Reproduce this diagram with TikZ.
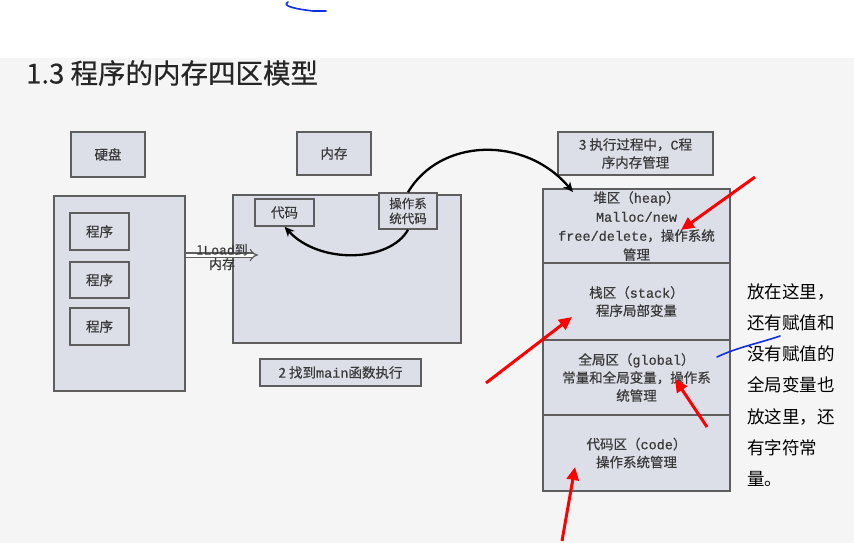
\documentclass[tikz,border=0pt]{standalone}
\usepackage{fontspec}
\setmainfont{Noto Sans CJK SC}
\newfontfamily\diagf[FakeBold=0.6]{Noto Sans CJK SC}
\newfontfamily\titlef[FakeBold=0.5]{Noto Sans CJK SC}
\newfontfamily\monof[FakeBold=0.6]{Liberation Mono}
\usetikzlibrary{arrows.meta}
\definecolor{boxfill}{HTML}{DCDFE8}
\definecolor{boxline}{HTML}{5E5E5E}
\definecolor{txt}{HTML}{3A3A3A}
\definecolor{bgc}{HTML}{F5F5F5}
\definecolor{penblue}{HTML}{1030E0}
\newcommand\lat[1]{{\monof #1}}
\begin{document}
\begin{tikzpicture}[x=1pt,y=-1pt,
  box/.style={draw=boxline, fill=boxfill, line width=1.5pt, inner sep=0pt,
    text=txt, font=\diagf\fontsize{13.5}{18}\selectfont, align=center},
  redarrow/.style={draw=red, line width=3pt, -{Triangle[length=13pt,width=12pt]}},
  blackarc/.style={draw=black, line width=2.3pt, -{Stealth[length=10pt,width=9pt]}},
  pen/.style={draw=penblue, line width=1.6pt, line cap=round}]
\useasboundingbox (0,0) rectangle (854,543);
\fill[white] (0,0) rectangle (854,58);
\fill[bgc] (0,58) rectangle (854,543);

% title
\node[anchor=west, inner sep=0pt, font=\titlef\fontsize{27.5}{30}\selectfont, text=black!85] (title) at (26,73) {1.3 程序的内存四区模型};

% headers
\node[box, minimum width=74pt, minimum height=45pt] (disk) at (108,154.5) {硬盘};
\node[box, minimum width=74pt, minimum height=43pt] (mem) at (334,153.5) {内存};
\node[box, minimum width=155pt, minimum height=43pt] (step3) at (635.5,153.5) {3 执行过程中，\lat{C}程\\序内存管理};

% hard disk
\node[box, minimum width=131pt, minimum height=195pt] (hd) at (119.5,293.5) {};
\node[box, minimum width=59pt, minimum height=37pt] (p1) at (99.5,231.5) {程序};
\node[box, minimum width=59pt, minimum height=36pt] (p2) at (99.5,280) {程序};
\node[box, minimum width=59pt, minimum height=37pt] (p3) at (99.5,326.5) {程序};

% memory
\node[box, minimum width=228pt, minimum height=148pt] (ram) at (347,269) {};
\node[box, minimum width=59pt, minimum height=27pt] (code) at (284.5,212.5) {代码};
\node[box, minimum width=58pt, minimum height=36pt, font=\diagf\fontsize{12.5}{15}\selectfont] (os) at (408,211) {操作系\\统代码};
\node[box, minimum width=161pt, minimum height=27pt] (main) at (340.5,372.5) {2 找到\lat{main}函数执行};

% four segments
\node[box, minimum width=187pt, minimum height=74pt, font=\diagf\fontsize{13.5}{19}\selectfont] (heap) at (636.5,226) {堆区（\lat{heap}）\\\lat{Malloc/new}\\\lat{free/delete}，操作系统\\管理};
\node[box, minimum width=187pt, minimum height=77pt] (stack) at (636.5,301.5) {栈区（\lat{stack}）\\程序局部变量};
\node[box, minimum width=187pt, minimum height=75pt] (global) at (636.5,377.5) {全局区（\lat{global}）\\常量和全局变量，操作系\\统管理};
\node[box, minimum width=187pt, minimum height=76pt] (codeseg) at (636.5,453) {代码区（\lat{code}）\\操作系统管理};

% load arrow
\coordinate (loadend) at (258,255);
\draw[draw=boxline, line width=1.2pt, double=white, double distance=3pt, -{Implies[length=8pt]}] (loadend -| hd.east) -- (loadend);
\node[inner sep=0pt, text=txt, align=center, font=\diagf\fontsize{13}{14.5}\selectfont] (loadlbl) at (222,257) {1\lat{Load}到\\内存};

% black arcs
\coordinate (heaptip) at (573,192);
\draw[blackarc] (os.south) .. controls (390,262) and (320,265) .. (code.south);
\draw[blackarc] (os.north) .. controls (440,138) and (525,135) .. (heaptip);

% red arrows
\coordinate (r1s) at (755,177); \coordinate (r1e) at (681,230);
\coordinate (r2s) at (486,383); \coordinate (r2e) at (572,317);
\coordinate (r3s) at (707,427); \coordinate (r3e) at (675,379);
\coordinate (r4s) at (562,541); \coordinate (r4e) at (575,467);
\draw[redarrow] (r1s) -- (r1e);
\draw[redarrow] (r2s) -- (r2e);
\draw[redarrow] (r3s) -- (r3e);
\draw[redarrow] (r4s) -- (r4e);

% note text
\node[anchor=north west, inner sep=0pt, align=left, font=\fontsize{17.5}{31.3}\selectfont, text=black] (note) at (747,283)
  {放在这里，\\还有赋值和\\没有赋值的\\全局变量也\\放这里，还\\有字符常\\量。};

% pen marks
\draw[pen] (288,2) .. controls (281,6) and (296,9) .. (313,11) -- (326,11);
\draw[pen] (717,357) .. controls (738,347) and (760,343) .. (780,336);
\end{tikzpicture}
\end{document}
